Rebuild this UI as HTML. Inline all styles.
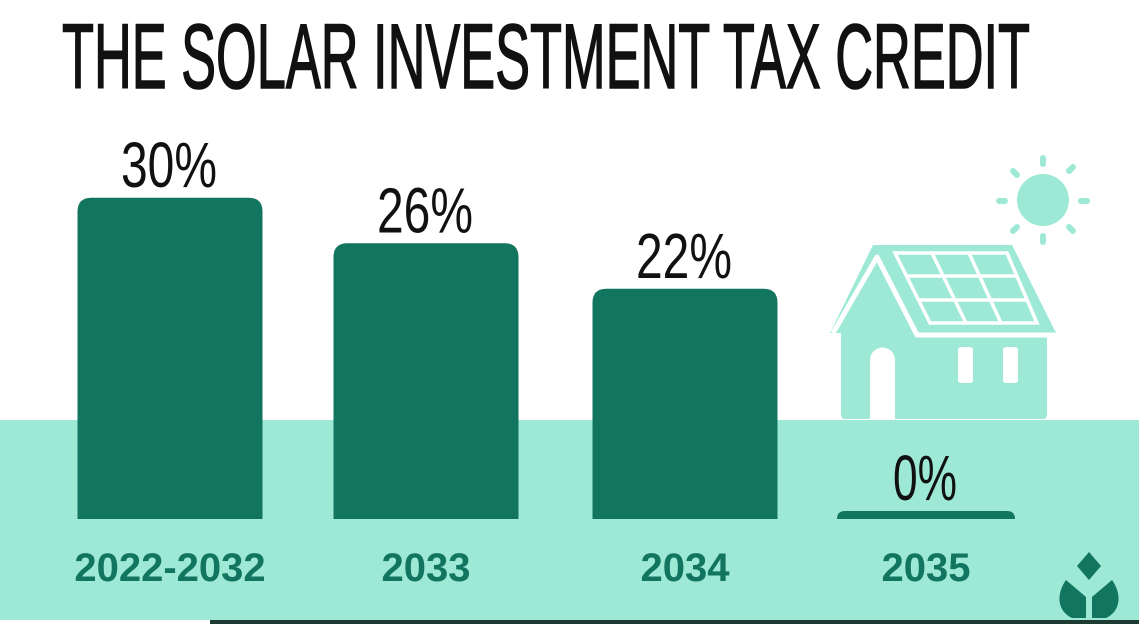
<!DOCTYPE html>
<html><head><meta charset="utf-8"><style>
html,body{margin:0;padding:0;background:#fff;}
svg{display:block;}
</style></head><body>
<svg id="chart" width="1139" height="624" viewBox="0 0 1139 624" xmlns="http://www.w3.org/2000/svg">
<rect x="0" y="0" width="1139" height="624" fill="#ffffff"/>
<rect x="0" y="420" width="1139" height="200" fill="#9de9d5"/>
<rect x="210" y="620" width="929" height="4" fill="#1d3b33"/>
<text x="62" y="88" font-family="'Liberation Sans Narrow','Liberation Sans',sans-serif" font-size="92" fill="#111" stroke="#111" stroke-width="1.6" textLength="968" lengthAdjust="spacingAndGlyphs">THE SOLAR INVESTMENT TAX CREDIT</text>

<g>
  <g fill="#9de9d5" stroke="#9de9d5">
    <circle cx="1043" cy="200" r="26" stroke="none"/>
    <g stroke-width="6" stroke-linecap="round">
      <line x1="1043" y1="158" x2="1043" y2="164"/>
      <line x1="1043" y1="236" x2="1043" y2="242"/>
      <line x1="999" y1="201" x2="1005" y2="201"/>
      <line x1="1081" y1="201" x2="1087" y2="201"/>
      <line x1="1013" y1="171" x2="1017" y2="175"/>
      <line x1="1069" y1="171" x2="1073" y2="167"/>
      <line x1="1013" y1="231" x2="1017" y2="227"/>
      <line x1="1069" y1="227" x2="1073" y2="231"/>
    </g>
  </g>
  <rect x="841" y="330" width="206" height="89" rx="4" fill="#9de9d5"/>
  <polygon points="830,333 873,245 1012,245 1056,333" fill="#9de9d5"/>
  <polyline points="833,333 877,257 917,335 1055,335" fill="none" stroke="#fff" stroke-width="5" stroke-linejoin="round"/>
  <g fill="none" stroke="#fff" stroke-width="3.5">
    <polygon points="895,253 1007,253 1037,323 930,323"/>
    <line x1="907" y1="276" x2="1017" y2="276"/>
    <line x1="918" y1="300" x2="1027" y2="300"/>
    <line x1="932" y1="253" x2="966" y2="323"/>
    <line x1="969" y1="253" x2="1001" y2="323"/>
  </g>
  <path d="M870,419 V360 a12.5,12.5 0 0 1 25,0 V419 Z" fill="#fff"/>
  <rect x="958" y="347" width="15" height="36" rx="3" fill="#fff"/>
  <rect x="1003" y="347" width="15" height="36" rx="3" fill="#fff"/>
</g>

<g id="bars"></g>
<g id="labels"></g>

<g fill="#12755f">
  <polygon points="1089,552 1101,566 1089,580 1077,566"/>
  <path d="M1086,618 V597 L1066,580 C1056,594 1057,611 1072,618 Z"/>
  <path d="M1092,618 V597 L1112,580 C1122,594 1121,611 1106,618 Z"/>
</g>
</svg>
<script>
const categories = ["2022-2032", "2033", "2034", "2035"];
const values = [30, 26, 22, 0];
const valueLabels = ["30%", "26%", "22%", "0%"];
const centers = [170, 426, 685, 926];
const barWidths = [185, 185, 185, 178];
const baseY = 519;
function yHeight(v){ return Math.max(8, 11.375 * v - 20); }
const NS = "http://www.w3.org/2000/svg";
const barsG = document.getElementById('bars');
const labelsG = document.getElementById('labels');
categories.forEach((c, i) => {
  const h = yHeight(values[i]);
  const w = barWidths[i];
  const x = centers[i] - w / 2;
  const top = baseY - h;
  const r = Math.min(14, h);
  const p = document.createElementNS(NS, 'path');
  p.setAttribute('d', `M${x},${baseY} V${top + r} Q${x},${top} ${x + r},${top} H${x + w - r} Q${x + w},${top} ${x + w},${top + r} V${baseY} Z`);
  p.setAttribute('fill', '#12755f');
  
  
  barsG.appendChild(p);

  const t = document.createElementNS(NS, 'text');
  t.setAttribute('x', centers[i] - 1);
  t.setAttribute('y', top - 11);
  t.setAttribute('text-anchor', 'middle');
  t.setAttribute('font-family', "'Liberation Sans Narrow','Liberation Sans',sans-serif");
  t.setAttribute('font-size', '64');
  t.setAttribute('fill', '#111');
  t.setAttribute('textLength', valueLabels[i].length * 32);
  t.setAttribute('lengthAdjust', 'spacingAndGlyphs');
  t.textContent = valueLabels[i];
  
  
  labelsG.appendChild(t);

  const a = document.createElementNS(NS, 'text');
  a.setAttribute('x', centers[i]);
  a.setAttribute('y', 581);
  a.setAttribute('text-anchor', 'middle');
  a.setAttribute('font-family', "'Liberation Sans',sans-serif");
  a.setAttribute('font-weight', 'bold');
  a.setAttribute('font-size', '40');
  a.setAttribute('fill', '#12755f');
  a.textContent = c;
  
  
  labelsG.appendChild(a);
});
</script>
</body></html>
